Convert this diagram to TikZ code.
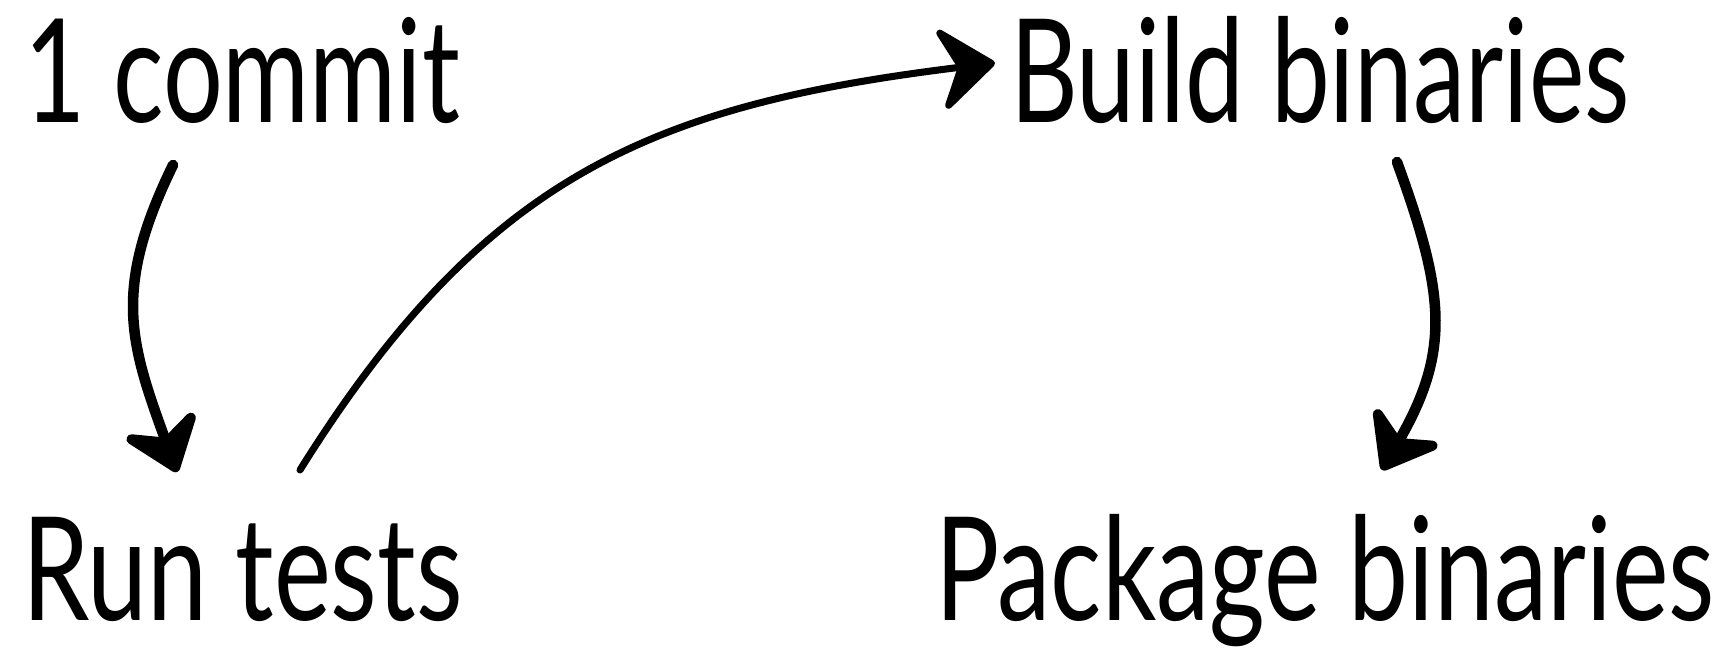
\documentclass[tikz,border=0pt]{standalone}
\usepackage{fontspec}
\setmainfont{Lato}
\usepackage{graphicx}
\usepackage{tikz}
\usetikzlibrary{arrows.meta}

\newcommand{\squeeze}[2]{\resizebox{#1}{\height}{#2}}

\begin{document}
\begin{tikzpicture}[
		stage/.style={inner sep=0pt, outer sep=0pt, anchor=base west, font=\fontsize{82}{90}\selectfont},
		sketch/.style={line width=6pt, line cap=round, -{Stealth[length=1.25cm, width=1.9cm, inset=0.45cm, round]}}]
			\useasboundingbox (0,0) rectangle (34.4,13.02);
			\node [stage] (commit) at (0.5,10.56) {\squeeze{8.7cm}{1 commit}};
			\node [stage] (build) at (20.2,10.56) {\squeeze{12.4cm}{Build binaries}};
			\node [stage] (run) at (0.45,0.6) {\squeeze{8.8cm}{Run tests}};
			\node [stage] (pkg) at (18.7,0.6) {\squeeze{15.6cm}{Package binaries}};
			\draw [sketch] ([shift={(-1.39,-0.84)}]commit.base) to[out=244, in=110, looseness=1.15] ([shift={(-1.31,2.98)}]run.base);
			\draw [sketch, line width=4pt] ([shift={(1.15,3.02)}]run.base) to[out=58, in=187, looseness=1.1] ([shift={(-0.3,1.2)}]build.base west);
			\draw [sketch] ([shift={(1.54,-0.78)}]build.base) to[out=290, in=60, looseness=1.15] ([shift={(1.14,3.02)}]pkg.base);
		\end{tikzpicture}
\end{document}
